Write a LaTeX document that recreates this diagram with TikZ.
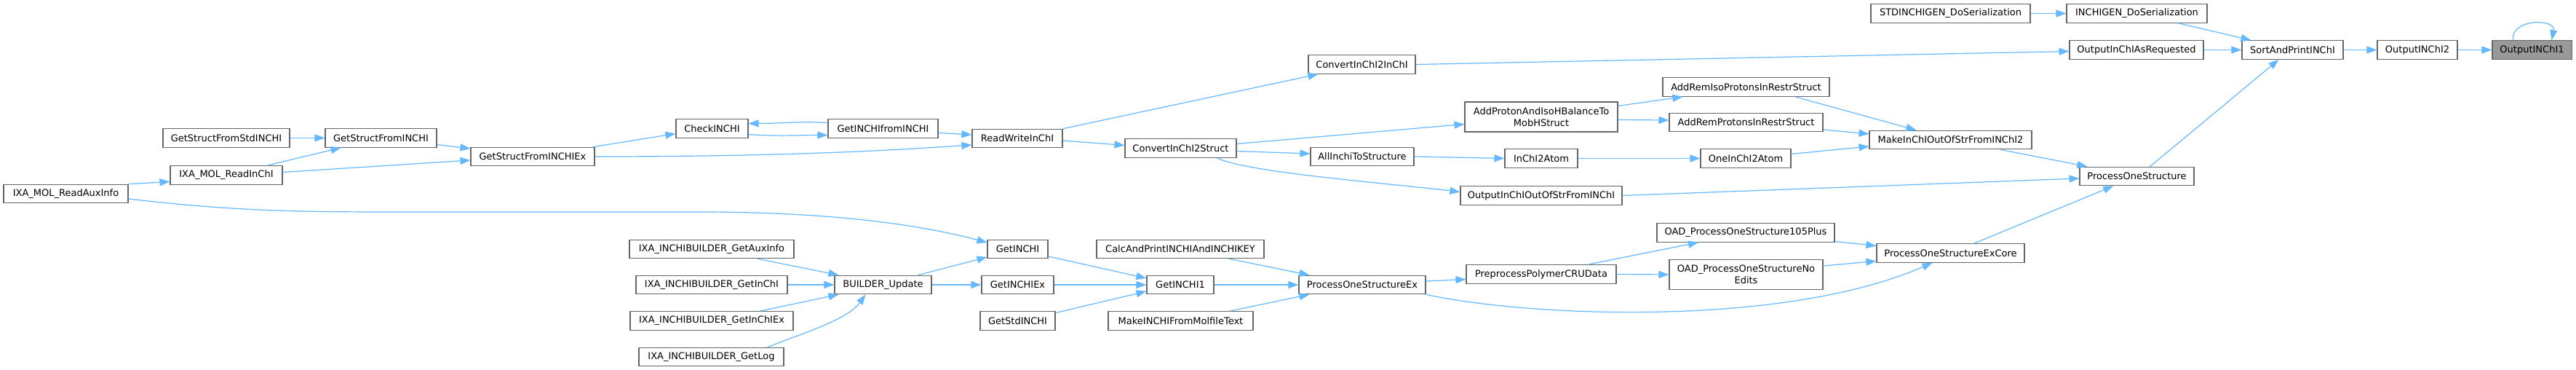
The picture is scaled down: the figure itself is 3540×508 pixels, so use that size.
\documentclass[tikz,border=0pt]{standalone}
\usepackage{fontspec}
\newfontfamily\dv{DejaVu Sans}
\usetikzlibrary{arrows.meta}
\definecolor{edgec}{HTML}{63B8FF}
\definecolor{nodeb}{HTML}{666666}
\definecolor{rootf}{HTML}{999999}
\begin{document}
\begin{tikzpicture}[x=1pt,y=-1pt,
 box/.style={draw=nodeb, fill=white, line width=1.1pt, inner sep=0pt, minimum height=25.5pt, align=center, font=\dv\fontsize{13}{15.5}\selectfont},
 tall/.style={minimum height=41pt},
 root/.style={fill=rootf},
 edge/.style={draw=edgec, line width=1.2pt, -{Triangle[length=14pt,width=10pt]}}]
\useasboundingbox (0,0) rectangle (3540,508);
\fill[white] (0,0) rectangle (3540,508);

\node[box,minimum width=219pt] (sdg) at (2680.5,18.5) {STDINCHIGEN\_DoSerialization};
\node[box,minimum width=193pt] (idg) at (2936.5,18.5) {INCHIGEN\_DoSerialization};
\node[box,minimum width=184pt] (oar) at (2936,68.5) {OutputInChIAsRequested};
\node[box,minimum width=139pt] (sap) at (3150.5,68.5) {SortAndPrintINChI};
\node[box,minimum width=110pt] (oi2) at (3322,68.5) {OutputINChI2};
\node[box,root,minimum width=109pt] (oi1) at (3479.5,68.5) {OutputINChI1};
\node[box,minimum width=147pt] (c2i) at (1871.5,88.5) {ConvertInChI2InChI};
\node[box,minimum width=229pt] (ari) at (2399.5,119.5) {AddRemIsoProtonsInRestrStruct};
\node[box,tall,minimum width=210pt] (aph) at (2118,160.5) {AddProtonAndIsoHBalanceTo\\MobHStruct};
\node[box,minimum width=211pt] (arp) at (2399.5,168) {AddRemProtonsInRestrStruct};
\node[box,minimum width=223pt] (mio) at (2680.5,192) {MakeInChIOutOfStrFromINChI2};
\node[box,minimum width=142pt] (ais) at (1872,215) {AllInchiToStructure};
\node[box,minimum width=100pt] (i2a) at (2118,217.5) {InChI2Atom};
\node[box,minimum width=124pt] (o2a) at (2399,217.5) {OneInChI2Atom};
\node[box,minimum width=157pt] (pos) at (2936.5,242) {ProcessOneStructure};
\node[box,minimum width=222pt] (oio) at (2118,268.5) {OutputInChIOutOfStrFromINChI};
\node[box,minimum width=244pt] (p105) at (2399,319.5) {OAD\_ProcessOneStructure105Plus};
\node[box,minimum width=203pt] (pec) at (2680.5,347.5) {ProcessOneStructureExCore};
\node[box,minimum width=206pt] (ppc) at (2118,376.5) {PreprocessPolymerCRUData};
\node[box,tall,minimum width=211pt] (pne) at (2399.5,377) {OAD\_ProcessOneStructureNo\\Edits};
\node[box,minimum width=174pt] (pex) at (1872,391) {ProcessOneStructureEx};
\node[box,minimum width=230pt] (cap) at (1622,342) {CalcAndPrintINCHIAndINCHIKEY};
\node[box,minimum width=92pt] (gi1) at (1622,391) {GetINCHI1};
\node[box,minimum width=199pt] (mif) at (1622.5,440.5) {MakeINCHIFromMolfileText};
\node[box,minimum width=83pt] (gi) at (1398.5,342) {GetINCHI};
\node[box,minimum width=99pt] (gix) at (1398.5,391) {GetINCHIEx};
\node[box,minimum width=103pt] (gsi) at (1398.5,440.5) {GetStdINCHI};
\node[box,minimum width=133pt] (bu) at (1213.5,391) {BUILDER\_Update};
\node[box,minimum width=226pt] (ga) at (978,342) {IXA\_INCHIBUILDER\_GetAuxInfo};
\node[box,minimum width=208pt] (gic) at (978,391) {IXA\_INCHIBUILDER\_GetInChI};
\node[box,minimum width=224pt] (gie) at (978,440.5) {IXA\_INCHIBUILDER\_GetInChIEx};
\node[box,minimum width=199pt] (gl) at (977.5,490) {IXA\_INCHIBUILDER\_GetLog};
\node[box,minimum width=124pt] (rwi) at (1398,190) {ReadWriteInChI};
\node[box,minimum width=153pt] (c2s) at (1622.5,203.5) {ConvertInChI2Struct};
\node[box,minimum width=151pt] (gif) at (1213.5,176.5) {GetINCHIfromINCHI};
\node[box,minimum width=99pt] (chk) at (978.5,176.5) {CheckINCHI};
\node[box,minimum width=170pt] (gsx) at (732,215) {GetStructFromINCHIEx};
\node[box,minimum width=153pt] (gsf) at (523.5,189.5) {GetStructFromINCHI};
\node[box,minimum width=174pt] (gss) at (311,189.5) {GetStructFromStdINCHI};
\node[box,minimum width=154pt] (mri) at (311,240.5) {IXA\_MOL\_ReadInChI};
\node[box,minimum width=171pt] (mra) at (90.5,266) {IXA\_MOL\_ReadAuxInfo};

% edges
\draw[edge] (sdg.east) -- (idg.west);
\draw[edge] ([xshift=57pt]idg.south) -- ([xshift=-57pt]sap.north);
\draw[edge] (oar.east) -- (sap.west);
\draw[edge] ([xshift=18pt]pos.north) -- ([xshift=-19pt]sap.south);
\draw[edge] (sap.east) -- (oi2.west);
\draw[edge] (oi2.east) -- (oi1.west);
\draw[edge] ([xshift=-26pt]oi1.north) .. controls +(-4,-30) and +(6,-30) .. ([xshift=27pt]oi1.north);
\draw[edge] (c2i.east) -- ([yshift=-2pt]oar.west);
\draw[edge] (mio) -- (pos);
\draw[edge] (oio.east) -- ([yshift=-3pt]pos.west);
\draw[edge] (pec) -- (pos);
\draw[edge] ([xshift=67pt]ari.south) -- ([xshift=-47pt]mio.north);
\draw[edge] ([yshift=-10pt]arp.east) -- ([yshift=8pt]mio.west);
\draw[edge] ([yshift=6pt]o2a.east) -- ([yshift=-9pt]mio.west);
\draw[edge] ([yshift=15pt]aph.east) -- ([xshift=-87pt]ari.south);
\draw[edge] ([yshift=-4pt]aph.east) -- ([yshift=3pt]arp.west);
\draw[edge] (i2a.east) -- (o2a.west);
\draw[edge] (ais.east) -- (i2a.west);
\draw[edge] ([yshift=6pt]c2s.east) -- ([yshift=-10pt]aph.west);
\draw[edge] ([yshift=-4pt]c2s.east) -- ([yshift=4pt]ais.west);
\draw[edge] ([xshift=50pt]c2s.south) .. controls +(40,20) and +(-100,-12) .. ([yshift=5pt]oio.west);
\draw[edge] (rwi.north east) -- ([xshift=-60pt]c2i.south);
\draw[edge] ([yshift=-3pt]rwi.east) -- ([yshift=4pt]c2s.west);
\draw[edge] ([yshift=-6pt]gif.east) -- ([yshift=5pt]rwi.west);
\draw[edge] (gsx.east) .. controls +(280,0) and +(-90,6) .. ([yshift=-9pt]rwi.west);
\draw[edge] ([yshift=-8pt]chk.east) .. controls +(40,3) and +(-40,0) .. ([yshift=-9pt]gif.west);
\draw[edge] ([yshift=8pt]gif.west) .. controls +(-40,-2) and +(40,0) .. ([yshift=7pt]chk.east);
\draw[edge] ([xshift=83pt]gsx.north) -- ([yshift=-7pt]chk.west);
\draw[edge] ([yshift=-9pt]gsf.east) -- ([yshift=11pt]gsx.west);
\draw[edge] ([yshift=4pt]mri.east) -- ([yshift=-5pt]gsx.west);
\draw[edge] ([xshift=56pt]mri.north) -- ([xshift=-55pt]gsf.south);
\draw[edge] (gss.east) -- (gsf.west);
\draw[edge] (mra.north east) -- ([yshift=-9pt]mri.west);
\draw[edge] ([yshift=-7pt]mra.east) .. controls (330,291) and (420,291) .. (560,291) -- (960,291) .. controls (1150,291) and (1270,310) .. ([yshift=9pt]gi.west);
\draw[edge] ([yshift=-12pt]p105.east) -- ([yshift=10pt]pec.west);
\draw[edge] ([yshift=12pt]pne.east) -- ([yshift=-11pt]pec.west);
\draw[edge] (pex.south east) .. controls (2100,435) and (2450,450) .. ([xshift=-25pt]pec.south);
\draw[edge] ([xshift=64pt]ppc.north) -- ([xshift=-65pt]p105.south);
\draw[edge] (ppc.east) -- (pne.west);
\draw[edge] ([yshift=5pt]pex.east) -- ([yshift=-7pt]ppc.west);
\draw[edge] ([xshift=67pt]cap.south) -- ([xshift=15pt]pex.north west);
\draw[edge] (gi1.east) -- (pex.west);
\draw[edge] ([xshift=67pt]mif.north) -- ([xshift=15pt]pex.south west);
\draw[edge] ([yshift=-10pt]gi.east) -- ([yshift=9pt]gi1.west);
\draw[edge] (gix.east) -- (gi1.west);
\draw[edge] ([yshift=11pt]gsi.east) -- ([yshift=-9pt]gi1.west);
\draw[edge] ([xshift=48pt]bu.north) -- ([yshift=-11pt]gi.west);
\draw[edge] (bu.east) -- (gix.west);
\draw[edge] ([xshift=63pt]ga.south) -- ([xshift=-61pt]bu.north);
\draw[edge] (gic.east) -- (bu.west);
\draw[edge] ([xshift=66pt]gie.north) -- ([xshift=-61pt]bu.south);
\draw[edge] ([xshift=77pt]gl.north) .. controls +(50,-20) and +(-25,35) .. ([xshift=-24pt]bu.south);
\end{tikzpicture}
\end{document}
